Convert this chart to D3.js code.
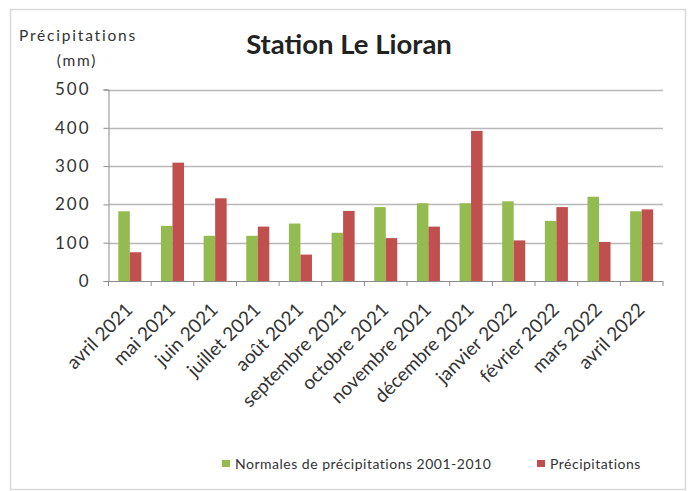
<!DOCTYPE html>
<html><head><meta charset="utf-8">
<script src="https://cdn.jsdelivr.net/npm/d3@7"></script>
<style>
html,body{margin:0;padding:0;background:#fff;}
svg{display:block;}
text{font-family:"Lato","Open Sans",sans-serif;}
</style></head>
<body>
<svg id="chart" width="692" height="491"></svg>
<script>
const months = ["avril 2021","mai 2021","juin 2021","juillet 2021","août 2021","septembre 2021","octobre 2021","novembre 2021","décembre 2021","janvier 2022","février 2022","mars 2022","avril 2022"];
const normales = [182,144,118,118,150,126,193,203,203,208,157,220,182];
const precipitations = [75,309,216,142,69,183,112,142,392,106,193,102,187];
const yTicks = [0,100,200,300,400,500];
const seriesNames = ["Normales de précipitations 2001-2010","Précipitations"];
const colors = ["#94bb50","#c0504d"];

(function(){
const svg = d3.select("#chart");
svg.append("rect").attr("x",10.5).attr("y",9.5).attr("width",675).attr("height",480)
  .attr("fill","#fff").attr("stroke","#d9d9d9").attr("stroke-width",1.5);

const pl=108.5, pr=663, pt=89.5, pb=281;
const y = d3.scaleLinear().domain([0,500]).range([pb,pt]);
const x = d3.scaleBand().domain(months).range([pl,pr]).paddingInner(0.46).paddingOuter(0.23);
const bw = x.bandwidth();

svg.append("g").selectAll("line").data(yTicks.filter(d=>d>0)).join("line")
  .attr("x1",pl).attr("x2",pr).attr("y1",d=>Math.round(y(d))+0.5).attr("y2",d=>Math.round(y(d))+0.5)
  .attr("stroke","#b8b8b8").attr("stroke-width",1.3);

const yAxis = svg.append("g").attr("transform",`translate(${pl},0)`)
  .call(d3.axisLeft(y).tickValues(yTicks).tickSize(5).tickPadding(13));
yAxis.select(".domain").attr("stroke","#8c8c8c");
yAxis.selectAll(".tick line").attr("stroke","#8c8c8c");
yAxis.selectAll(".tick text").attr("font-size",17).attr("fill","#333")
  .style("font-family","Lato").style("letter-spacing","2px");

const g = svg.append("g");
g.selectAll(".n").data(months).join("rect").attr("class","n")
  .attr("x",d=>x(d)).attr("width",bw/2)
  .attr("y",(d,i)=>y(normales[i])).attr("height",(d,i)=>y(0)-y(normales[i]))
  .attr("fill",colors[0]);
g.selectAll(".p").data(months).join("rect").attr("class","p")
  .attr("x",d=>x(d)+bw/2).attr("width",bw/2)
  .attr("y",(d,i)=>y(precipitations[i])).attr("height",(d,i)=>y(0)-y(precipitations[i]))
  .attr("fill",colors[1]);

svg.append("line").attr("x1",pl).attr("x2",pr).attr("y1",pb+0.5).attr("y2",pb+0.5)
  .attr("stroke","#8c8c8c");
const step = x.step();
svg.append("g").selectAll("line").data(d3.range(months.length+1)).join("line")
  .attr("x1",i=>pl+i*step).attr("x2",i=>pl+i*step).attr("y1",pb).attr("y2",pb+5)
  .attr("stroke","#8c8c8c");
svg.append("g").selectAll("text").data(months).join("text")
  .attr("transform",d=>`translate(${x(d)+bw/2+4},${pb+30}) rotate(-45)`)
  .attr("text-anchor","end")
  .attr("font-size",19).attr("fill","#333").text(d=>d);

svg.append("text").attr("x",349).attr("y",53.5).attr("text-anchor","middle")
  .attr("font-size",27.5).attr("font-weight","bold").attr("fill","#222").text("Station Le Lioran");

svg.append("text").attr("x",78).attr("y",40.5).attr("text-anchor","middle")
  .attr("font-size",15.5).attr("fill","#333").style("letter-spacing","1.8px").text("Précipitations");
svg.append("text").attr("x",77).attr("y",66).attr("text-anchor","middle")
  .attr("font-size",15.5).attr("fill","#333").style("letter-spacing","1.8px").text("(mm)");

const legX = [222,537];
const leg = svg.append("g").selectAll("g").data(seriesNames).join("g")
  .attr("transform",(d,i)=>`translate(${legX[i]},0)`);
leg.append("rect").attr("x",0).attr("y",460).attr("width",8).attr("height",7).attr("fill",(d,i)=>colors[i]);
leg.append("text").attr("x",13).attr("y",468.5).attr("font-size",14).attr("fill","#333")
  .style("letter-spacing","0.5px").text(d=>d);
})();
</script>
</body></html>
